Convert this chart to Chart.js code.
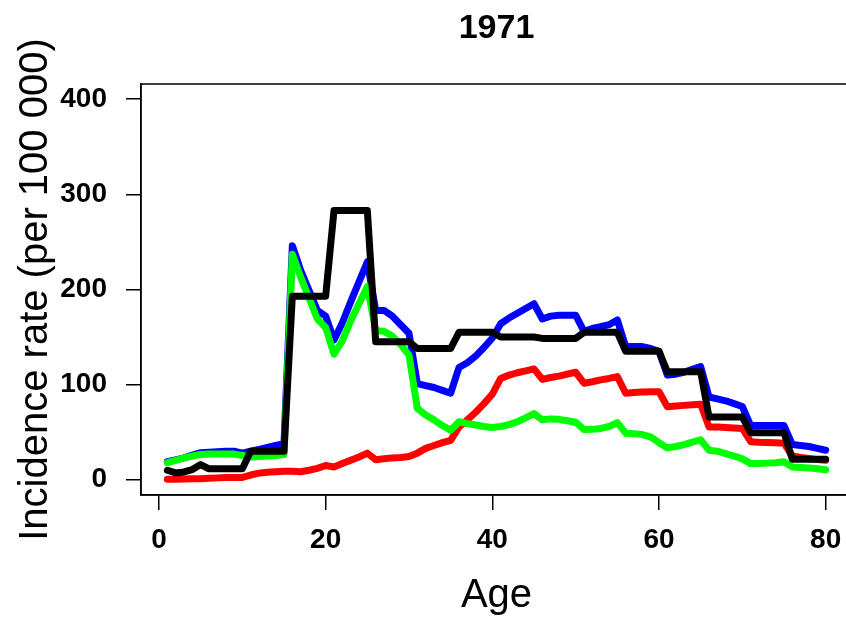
<!DOCTYPE html>
<html><head><meta charset="utf-8">
<script src="https://cdn.jsdelivr.net/npm/chart.js@4.4.1/dist/chart.umd.min.js"></script>
<style>html,body{margin:0;padding:0;background:#fff;overflow:hidden;width:846px;height:618px}canvas{display:block}</style>
</head><body><canvas id="c" width="860" height="618"></canvas>
<script>
const ages=[1,2,3,4,5,6,7,8,9,10,11,12,13,14,15,16,17,18,19,20,21,22,23,24,25,26,27,28,29,30,31,32,33,34,35,36,37,38,39,40,41,42,43,44,45,46,47,48,49,50,51,52,53,54,55,56,57,58,59,60,61,62,63,64,65,66,67,68,69,70,71,72,73,74,75,76,77,78,79,80];
const blueRate=[19,21,23,26,28.5,29,29.5,30,30,28,30,32,34,36,38,246,220,199,178,172,147,165,187,208,229,178,178,172,163,154,101,99,97,94,91,118,123,130,139,149,164,170,175,180,185,169,172,173,173,173,156,159,161,163,168,140,140,140,138,135,110,111,113,116,119,87,85,83,80,77,57,57,57,57,57,37,36,35,33,31];
const greenRate=[18,20.5,23,25,26.5,27,27,27,27,25.5,24,24.5,25,25.5,26.5,237,213,191,169,160,132,146,167,185,203,157,156,151,142,131,75,68,63,57,52,61,59,57.5,56,55,56,58,61,65,69.5,63,64,63.5,62,60.5,52.8,53,54,56,60,49,48.5,47.5,45,39,33.5,35,37,39.5,42,31,30,27.5,25,22,17,17,17.5,18,19,13.5,13,12.5,11.5,10.5];
const redRate=[0.5,0.5,0.8,1,1.2,1.6,2,2.3,2.3,2.5,5,7,8,8.5,9,9,8.5,10,12,15,13.5,17,20.5,24,28,21,22,23,23.5,24.5,28,33,36,39,41.5,55.5,63,71,80,90,106.5,110,112.5,114.5,116.5,105.5,107.5,109,111,113,101.5,103,105,106.5,108.5,91,91.7,92.3,92.5,92.5,76.7,77.5,78.2,78.8,79.3,55.6,55.4,55,54.5,54,40,39.5,39.2,39,38.5,25,23.5,22.3,21.2,20.5];
const blackRate=[10,7.2,8.2,10.7,16,11.5,11.5,11.5,11.5,11.5,30,30,30,30,30,193,193,193,193,193,283,283,283,283,283,145,145,145,145,145,138,138,138,138,138,155,155,155,155,155,150,150,150,150,150,148.6,148.6,148.6,148.6,148.6,155,155,155,155,155,135,135,135,135,135,113.5,113.5,113.5,113.5,113.5,66,66,66,66,66,49.5,49.5,49.5,49.5,49.5,21.5,21.5,21.5,21.5,21.5];
const xTicks=[0,20,40,60,80];
const yTicks=[0,100,200,300,400];
const titleText='1971';
const xTitle='Age';
const yTitle='Incidence rate (per 100 000)';

const FONT="'Liberation Sans', Arial, Helvetica, sans-serif";
const pts=v=>ages.map((a,i)=>({x:a,y:v[i]}));
function ds(label,vals,color){return {label:label,data:pts(vals),borderColor:color,backgroundColor:color,borderWidth:7,pointRadius:0,tension:0,borderCapStyle:'round',borderJoinStyle:'round',fill:false};}

const textPlugin={id:'texts',afterDraw(chart){
  const ctx=chart.ctx,a=chart.chartArea;
  ctx.save();
  ctx.strokeStyle='#000';ctx.lineWidth=1.5;
  ctx.strokeRect(a.left,a.top,a.right-a.left,a.bottom-a.top);
  ctx.fillStyle='#000';ctx.textAlign='center';ctx.textBaseline='alphabetic';
  const cx=(a.left+a.right)/2;
  ctx.font='bold 34px '+FONT;ctx.fillText(titleText,cx,38);
  ctx.font='40px '+FONT;ctx.fillText(xTitle,cx,607);
  ctx.translate(47,(a.top+a.bottom)/2);ctx.rotate(-Math.PI/2);
  ctx.fillText(yTitle,0,0);
  ctx.restore();
}};

const axisCommon={
  grid:{display:true,drawOnChartArea:false,drawTicks:true,tickLength:15,color:'#000',lineWidth:1.5},
  border:{display:true,color:'#000',width:1.5}
};

new Chart(document.getElementById('c'),{
  type:'line',
  data:{datasets:[ds('black',blackRate,'#000000'),ds('green',greenRate,'#00FF00'),ds('blue',blueRate,'#0000FF'),ds('red',redRate,'#FF0000')]},
  options:{
    responsive:false,animation:false,
    layout:{padding:{left:0,right:8,top:84,bottom:0}},
    plugins:{legend:{display:false},tooltip:{enabled:false},title:{display:false}},
    scales:{
      x:Object.assign({type:'linear',min:-2.16,max:83.16,
        afterBuildTicks:s=>{s.ticks=xTicks.map(v=>({value:v}));},
        afterFit:s=>{s.height=123;},
        ticks:{font:{family:FONT,size:28,weight:'bold'},color:'#000',padding:13,maxRotation:0,autoSkip:false}},axisCommon),
      y:Object.assign({type:'linear',min:-16,max:416,
        afterBuildTicks:s=>{s.ticks=yTicks.map(v=>({value:v}));},
        afterFit:s=>{s.width=141;},
        ticks:{font:{family:FONT,size:28,weight:'bold'},color:'#000',padding:19,autoSkip:false}},axisCommon)
    }
  },
  plugins:[textPlugin]
});
</script></body></html>
